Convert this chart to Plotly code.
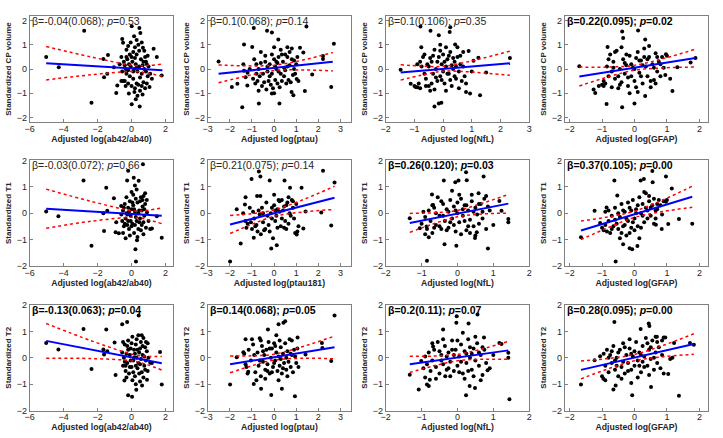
import plotly.graph_objects as go
from plotly.subplots import make_subplots

# ---------------- data ----------------
# rows: CP volume, T1, T2   cols: ab42/ab40, ptau, NfL, GFAP

cp_ab42 = [(-5.03, 0.5), (-4.29, 0.07), (-2.79, 1.58), (-2.36, -1.39), (-1.66, 0.41), (-1.62, -0.34), (-1.39, 0.58),
           (-1.43, -0.2), (-0.9, -0.99), (-0.84, -0.68), (-1.04, 0.07), (-0.6, -0.5), (-0.55, 1.24), (-0.5, 1.08),
           (0.01, 1.77), (0.46, 1.69), (0.52, 1.49), (0.67, 0.88), (1.3, 0.84), (1.49, 0.5), (1.78, -0.27),
           (1.06, -0.74), (0.01, -1.46), (0.48, -1.55), (-0.16, -1.01), (0.17, -0.95),
           (-0.3, 0.8), (-0.2, 0.95), (-0.1, 0.6), (0.0, 0.5), (0.1, 0.7), (0.2, 0.9), (0.3, 0.6), (0.4, 1.0),
           (0.55, 0.4), (0.7, 0.3), (0.8, 0.5), (0.9, 0.2), (1.0, 0.1), (-0.45, 0.3), (-0.4, 0.15), (-0.35, 0.0),
           (-0.3, -0.2), (-0.25, 0.4), (-0.15, 0.2), (-0.05, 0.1), (0.05, 0.3), (0.15, 0.0), (0.25, 0.2),
           (0.35, -0.1), (0.45, 0.1), (0.6, -0.2), (0.75, 0.0), (0.85, -0.1), (0.95, -0.3), (-0.5, -0.5),
           (-0.4, -0.5), (-0.2, -0.6), (-0.1, -0.3), (0.0, -0.7), (0.1, -0.4), (0.2, -0.8), (0.3, -0.6),
           (0.4, -0.65), (0.5, -0.9), (0.6, -0.7), (0.7, -0.55), (0.8, -0.8), (0.9, -0.6), (0.65, -1.05),
           (0.35, -1.1), (-0.6, 0.5), (-0.55, -0.1), (0.15, 1.35), (0.3, 1.2), (0.6, 1.1), (0.75, 0.75),
           (-0.05, 1.1), (0.45, 0.75), (0.2, 0.45), (0.1, -0.1), (-0.2, -0.05), (0.5, -0.35), (0.3, 0.05),
           (0.65, 0.15), (0.85, 0.3), (1.1, -0.2), (1.2, -0.4), (0.95, 0.55), (-0.35, -0.7), (0.25, -1.25),
           (-0.7, 0.2), (-0.3, 0.5)]

cp_ptau = [(-2.51, 0.31), (-1.91, -0.74), (-1.66, -0.61), (-1.44, -1.58), (-1.36, 1.01), (-1.39, 0.2), (-1.36, -0.07),
           (-1.29, -0.34), (-1.21, -0.68), (-0.92, 1.69), (-0.99, 0.91), (-0.69, -1.42), (-0.32, 1.58), (-0.1, 1.51),
           (0.19, 1.22), (0.24, -1.42), (-0.1, -1.01), (1.46, 1.76), (1.17, 0.88), (1.32, 0.68), (1.39, -0.91),
           (1.02, -0.41), (0.87, -1.08), (0.79, -0.95), (1.72, -0.23), (2.21, 0.54), (2.21, 0.41), (2.58, -0.74),
           (2.7, 1.04),
           (-0.9, 0.4), (-0.8, 0.2), (-0.7, 0.0), (-0.6, 0.25), (-0.5, -0.2), (-0.4, 0.3), (-0.3, 0.1), (-0.2, -0.3),
           (-0.1, 0.6), (0.0, 0.4), (0.1, 0.0), (0.2, 0.5), (0.3, -0.2), (0.4, 0.3), (0.5, 0.6), (0.6, 0.1),
           (0.7, 0.7), (0.8, 0.4), (0.9, 0.0), (1.0, 0.2), (-0.95, -0.4), (-0.85, -0.6), (-0.75, -0.5),
           (-0.65, -0.3), (-0.55, -0.7), (-0.45, -0.55), (-0.35, -0.85), (-0.25, -0.5), (-0.15, -0.65),
           (-0.05, -0.8), (0.05, -0.45), (0.15, -0.6), (0.25, -0.75), (0.35, -0.5), (0.45, -0.3), (0.55, -0.6),
           (0.65, -0.45), (0.75, -0.55), (0.85, -0.25), (1.1, -0.5), (-0.6, 0.7), (-0.4, 0.55), (-0.2, 0.2),
           (0.0, 0.9), (0.1, 0.3), (0.3, 0.8), (0.45, 0.05), (0.6, 0.9), (0.8, 0.85), (0.9, 0.35), (1.05, 0.5),
           (-1.1, 0.0), (-1.2, -0.15), (-0.8, -0.2), (-0.3, -0.1), (0.05, 0.1), (0.2, -0.1), (0.5, -0.05),
           (0.7, 0.15), (0.95, -0.2), (-0.7, -0.9), (0.0, -1.0), (0.35, 0.6), (-0.1, -0.2), (0.15, 0.25), (0.6, 0.5)]

cp_nfl = [(-1.48, -0.03), (-1.13, -0.61), (-0.96, -0.74), (-0.79, 1.76), (-0.76, 0.9), (-0.44, 1.58), (-0.3, -1.55),
          (-0.15, -1.42), (-0.06, -1.39), (-0.15, 1.39), (0.25, 1.72), (0.23, 1.53), (0.42, 1.01), (0.8, -0.95),
          (0.94, -1.01), (1.29, -1.08), (1.23, 0.47), (1.5, -0.14), (2.33, 0.45), (0.89, 0.74), (1.06, 0.34),
          (-1.0, -0.7), (-0.9, -0.75), (-0.85, -0.6), (-0.8, -0.8), (-0.75, 0.1), (-0.7, 0.5), (-0.65, 0.6),
          (-0.6, -0.4), (-0.55, 0.2), (-0.5, -0.7), (-0.45, -0.9), (-0.4, 0.3), (-0.35, -0.2), (-0.3, 0.8),
          (-0.25, 0.0), (-0.2, -0.5), (-0.15, 0.5), (-0.1, -0.3), (-0.05, 0.2), (0.0, 0.6), (0.05, -0.6),
          (0.1, 0.1), (0.15, 0.4), (0.2, -0.2), (0.25, 0.7), (0.3, -0.7), (0.35, 0.0), (0.4, 0.3), (0.45, -0.4),
          (0.5, 0.5), (0.55, -0.1), (0.6, 0.2), (0.65, -0.5), (0.7, 0.1), (0.75, -0.3), (-0.9, 0.2), (-0.8, 0.3),
          (-0.6, -0.7), (-0.5, 0.1), (-0.4, -0.6), (-0.3, -0.85), (-0.2, 0.3), (-0.1, 0.75), (0.0, -0.1),
          (0.1, -0.9), (0.2, 0.55), (0.3, 0.15), (0.4, -0.3), (0.5, 0.9), (0.6, 0.55), (0.7, 0.7), (-0.05, -0.45),
          (0.15, -0.2), (0.35, 0.45), (0.45, 0.1), (-0.35, 0.55), (-0.65, -0.2), (-0.25, -0.35), (0.05, 0.3),
          (0.25, -0.45), (0.55, -0.8), (-0.45, 0.45), (0.8, -0.6), (1.0, -0.1), (-0.1, 1.0), (0.1, 0.9)]

cp_gfap = [(-1.7, 0.11), (-1.26, -0.85), (-1.21, -0.99), (-0.86, -1.45), (-0.83, 0.91), (-0.38, 1.55), (-0.38, -1.58),
           (-0.35, 1.28), (0.0, -1.42), (0.11, 1.59), (0.33, 1.22), (0.33, -1.12), (1.17, -0.91), (1.32, 0.07),
           (1.73, 0.27), (1.88, 0.45), (0.97, 0.61),
           (-1.0, -0.65), (-0.95, -0.7), (-0.9, -0.6), (-0.85, 0.1), (-0.8, -0.3), (-0.75, 0.6), (-0.7, -0.75),
           (-0.65, 0.3), (-0.6, -0.4), (-0.55, 0.75), (-0.5, -0.8), (-0.45, 0.0), (-0.4, -0.55), (-0.35, 0.4),
           (-0.3, -0.2), (-0.25, 0.15), (-0.2, -0.7), (-0.15, 0.55), (-0.1, -0.3), (-0.05, 0.05), (0.0, -0.5),
           (0.05, 0.45), (0.1, 0.7), (0.15, -0.15), (0.2, 0.35), (0.25, -0.6), (0.3, 0.85), (0.35, 0.1),
           (0.4, -0.3), (0.45, 0.5), (0.5, -0.75), (0.55, 0.2), (0.6, -0.45), (0.65, 0.65), (0.7, -0.1),
           (0.75, 0.3), (0.8, -0.3), (0.85, 0.5), (0.9, 0.05), (0.95, -0.25), (-0.95, -0.5), (-0.8, 0.4),
           (-0.7, -0.1), (-0.6, 0.7), (-0.5, -0.3), (-0.4, 0.9), (-0.3, 0.25), (-0.2, -0.35), (-0.1, 0.2),
           (0.0, 0.0), (0.1, -0.95), (0.2, -0.3), (0.3, 0.5), (0.4, 0.4), (0.5, -0.5), (0.6, 0.05), (0.7, 0.5),
           (0.8, 0.2), (1.0, 0.55), (1.1, -0.4), (-0.45, -0.65), (-0.15, -1.0), (0.05, -0.75), (-0.65, 0.05),
           (0.25, 0.15), (0.65, -0.6), (-0.25, 0.6), (0.45, 0.95), (0.15, 0.35), (-1.1, -0.7)]

t1_ab42 = [(-5.03, 0.06), (-4.31, -0.12), (-2.83, 1.24), (-2.36, -1.24), (-1.66, 0.0), (-1.62, -0.68), (-1.49, 0.96),
           (-1.43, 0.09), (-1.04, 0.56), (-0.94, -0.72), (-0.9, -0.35), (-0.75, -0.76), (-0.2, 1.61), (-0.26, 1.24),
           (0.13, 1.34), (0.42, 1.23), (0.67, 1.85), (0.23, -1.37), (0.26, -1.83), (0.0, 0.8), (0.71, 0.65),
           (0.91, 0.02), (1.49, -0.12), (1.78, -0.93), (1.2, -0.58), (0.32, -1.03), (-0.61, 0.27),
           (-0.55, -0.3), (-0.5, 0.1), (-0.45, -0.5), (-0.4, 0.35), (-0.35, -0.2), (-0.3, 0.0), (-0.25, -0.45),
           (-0.2, 0.2), (-0.15, -0.6), (-0.1, 0.45), (-0.05, -0.1), (0.0, 0.15), (0.05, -0.4), (0.1, 0.3),
           (0.15, -0.75), (0.2, 0.05), (0.25, 0.55), (0.3, -0.3), (0.35, 0.4), (0.4, -0.6), (0.45, 0.1),
           (0.5, -0.2), (0.55, 0.6), (0.6, -0.45), (0.65, 0.25), (0.7, -0.8), (0.75, -0.1), (0.8, 0.35),
           (0.85, -0.55), (0.9, 0.5), (-0.5, -0.75), (-0.4, -0.4), (-0.3, 0.6), (-0.2, -0.3), (-0.1, -0.85),
           (0.0, -0.5), (0.1, 0.7), (0.2, -0.45), (0.3, 0.9), (0.4, 0.0), (0.5, 0.45), (0.6, 0.1), (0.7, -0.35),
           (0.8, 0.75), (-0.45, 0.2), (-0.25, -0.05), (0.05, 0.4), (0.25, -0.15), (0.35, -0.9), (0.45, -0.35),
           (0.55, -0.65), (0.15, 0.15), (-0.15, 0.05), (-0.05, -0.3), (0.65, 0.5), (1.0, -0.3), (1.1, -0.6),
           (-0.35, -0.95), (0.75, 0.15), (0.2, 1.05), (-0.6, -0.05)]

t1_ptau = [(-1.99, -1.83), (-1.69, 0.15), (-1.51, -1.15), (-1.32, 0.33), (-1.29, 0.6), (-1.02, 1.29), (-0.92, -0.93),
           (-0.69, 1.58), (-0.62, 1.39), (-0.2, 1.24), (-0.13, -1.34), (0.12, -1.22), (0.47, 1.24), (0.72, 0.96),
           (1.24, 0.96), (1.02, -0.81), (1.32, -0.58), (1.42, 0.06), (2.13, 0.02), (2.21, 1.61), (2.58, -0.47),
           (2.73, 1.16), (-0.77, 0.65), (-0.62, 0.65),
           (-1.4, 0.0), (-1.3, -0.3), (-1.2, -0.4), (-1.1, 0.2), (-1.0, -0.6), (-0.9, -0.2), (-0.8, -0.45),
           (-0.7, 0.1), (-0.6, -0.8), (-0.5, -0.35), (-0.4, -0.6), (-0.3, -0.1), (-0.2, -0.7), (-0.1, 0.2),
           (0.0, 0.3), (0.1, -0.1), (0.2, 0.5), (0.3, -0.5), (0.4, 0.1), (0.5, -0.3), (0.6, 0.4), (0.7, 0.0),
           (0.8, 0.5), (0.9, -0.2), (1.0, 0.35), (1.1, -0.5), (-1.25, -0.55), (-1.05, -0.35), (-0.85, -0.5),
           (-0.65, -0.05), (-0.45, -0.65), (-0.25, -0.45), (-0.05, -0.95), (0.05, 0.1), (0.15, -0.55),
           (0.25, 0.45), (0.35, -0.2), (0.45, -0.55), (0.55, 0.3), (0.65, 0.6), (0.75, -0.1), (0.85, 0.2),
           (0.95, -0.75), (-0.55, 0.2), (-0.35, 0.4), (-0.15, 0.0), (0.05, -0.3), (0.25, 0.05), (0.45, 0.25),
           (0.65, -0.4), (0.85, 0.45), (-0.95, 0.05), (-0.75, -0.7), (0.15, 0.15), (0.35, 0.5), (-0.1, -0.2),
           (0.55, -0.6), (1.05, -0.7), (0.0, 0.7), (-0.5, 0.0)]

t1_nfl = [(-1.33, -0.19), (-1.05, -0.57), (-0.86, -0.51), (-0.85, -1.8), (-0.8, -0.91), (-0.71, 0.71), (-0.68, 0.31),
          (-0.38, 1.24), (-0.36, -1.18), (-0.06, 1.17), (-0.03, -1.24), (0.03, 1.24), (0.24, 1.55), (0.26, 1.25),
          (0.73, 1.39), (0.8, 0.65), (0.59, 0.75), (0.85, -1.34), (0.49, -0.94), (1.17, 0.46), (1.42, -0.22),
          (1.42, -0.35), (1.23, 0.09), (0.54, -0.72),
          (-1.0, -0.4), (-0.95, 0.05), (-0.9, -0.15), (-0.85, -0.6), (-0.8, 0.1), (-0.75, -0.3), (-0.7, -0.75),
          (-0.65, 0.2), (-0.6, -0.45), (-0.55, 0.6), (-0.5, -0.1), (-0.45, -0.6), (-0.4, 0.35), (-0.35, -0.3),
          (-0.3, 0.15), (-0.25, -0.55), (-0.2, 0.5), (-0.15, -0.2), (-0.1, 0.25), (-0.05, -0.7), (0.0, 0.0),
          (0.05, -0.35), (0.1, 0.55), (0.15, -0.1), (0.2, 0.3), (0.25, -0.65), (0.3, 0.1), (0.35, -0.25),
          (0.4, 0.45), (0.45, -0.5), (0.5, 0.2), (0.55, -0.05), (0.6, -0.4), (0.65, 0.35), (0.7, -0.2),
          (0.75, 0.55), (0.8, -0.6), (0.9, 0.1), (-0.9, -0.8), (-0.7, 0.3), (-0.5, -0.5), (-0.3, -0.65),
          (-0.1, -0.45), (0.1, -0.8), (0.3, -0.5), (0.5, -0.85), (0.7, 0.05), (-0.6, 0.0), (-0.4, -0.1),
          (-0.2, -0.35), (0.0, 0.4), (0.2, -0.3), (0.4, 0.7), (0.6, 0.35), (-0.45, 0.45), (-0.15, 0.85),
          (0.15, 0.15), (0.35, -0.75), (-0.25, 0.05), (0.05, 0.7), (0.45, 0.05), (-0.65, -0.55), (1.0, -0.45),
          (0.85, 0.25), (-0.05, 0.1), (0.25, 0.3)]

t1_gfap = [(-1.65, -0.91), (-1.23, 0.09), (-1.06, -0.37), (-0.86, 0.21), (-0.62, 1.24), (-0.58, -1.83), (-0.53, 0.67),
           (-0.35, -1.18), (-0.15, -1.33), (-0.07, -1.37), (0.09, -1.25), (0.19, 1.24), (0.29, 1.29), (0.56, 1.17),
           (0.55, 1.6), (0.97, 1.39), (1.15, 0.93), (0.97, 0.43), (1.37, -0.22), (1.04, -0.41), (1.78, -0.4),
           (0.66, -0.44), (0.84, -0.6),
           (-1.0, -0.55), (-0.95, -0.65), (-0.9, 0.05), (-0.85, -0.7), (-0.8, -0.3), (-0.75, -0.75), (-0.7, -0.1),
           (-0.65, -0.5), (-0.6, 0.2), (-0.55, -0.4), (-0.5, -0.6), (-0.45, -0.15), (-0.4, 0.35), (-0.35, -0.5),
           (-0.3, 0.05), (-0.25, -0.85), (-0.2, -0.3), (-0.15, 0.2), (-0.1, -0.55), (-0.05, 0.5), (0.0, -0.2),
           (0.05, 0.15), (0.1, -0.5), (0.15, 0.6), (0.2, 0.0), (0.25, 0.35), (0.3, -0.35), (0.35, 0.75),
           (0.4, 0.1), (0.45, 0.45), (0.5, -0.1), (0.55, 0.3), (0.6, 0.55), (0.65, -0.2), (0.7, 0.15), (0.75, 0.5),
           (0.8, 0.3), (0.9, 0.45), (-0.9, -0.45), (-0.7, -0.6), (-0.5, 0.0), (-0.4, -0.75), (-0.3, -0.45),
           (-0.2, 0.4), (-0.1, 0.1), (0.0, -0.65), (0.1, 0.3), (0.2, -0.55), (0.3, 0.8), (0.4, -0.2), (0.5, 0.2),
           (0.6, -0.4), (0.7, 0.35), (-0.6, -0.25), (-0.35, 0.1), (-0.15, -0.75), (0.05, 0.0), (0.25, -0.1),
           (0.45, 0.65), (-0.45, -0.95), (-0.8, 0.1), (0.15, -0.95), (0.65, 0.1), (-0.05, -0.35), (0.35, 0.2),
           (-0.25, -0.2), (0.85, -0.05), (1.0, 0.5)]

t2_ab42 = [(-5.03, 0.56), (-4.31, 0.31), (-2.83, 1.09), (-2.36, -0.43), (-1.66, 0.31), (-1.62, 0.12), (-1.49, 1.07),
           (-1.43, 0.25), (-1.0, 0.58), (-0.94, -0.65), (-0.55, 1.27), (-0.26, 1.36), (-0.42, -0.86), (-0.2, -1.42),
           (0.03, -1.48), (0.28, -1.21), (0.42, 1.6), (1.68, 0.22), (1.78, -1.01), (1.1, -0.19), (0.91, -0.83),
           (0.62, -1.05),
           (-0.55, 0.2), (-0.5, -0.3), (-0.45, 0.0), (-0.4, 0.5), (-0.35, -0.5), (-0.3, 0.15), (-0.25, -0.2),
           (-0.2, 0.65), (-0.15, -0.6), (-0.1, 0.1), (-0.05, 0.35), (0.0, -0.35), (0.05, 0.8), (0.1, -0.1),
           (0.15, 0.3), (0.2, -0.7), (0.25, 0.5), (0.3, 0.0), (0.35, -0.4), (0.4, 0.85), (0.45, 0.2), (0.5, -0.25),
           (0.55, 0.6), (0.6, -0.55), (0.65, 0.1), (0.7, 0.75), (0.75, -0.3), (0.8, 0.4), (0.85, -0.1), (0.9, 0.25),
           (0.95, -0.5), (1.0, 0.0), (-0.5, 0.6), (-0.4, -0.15), (-0.3, -0.75), (-0.2, 0.3), (-0.1, -0.35),
           (0.0, 0.55), (0.1, -0.55), (0.2, 0.15), (0.3, 0.7), (0.4, -0.2), (0.5, 0.35), (0.6, 0.85), (0.7, -0.75),
           (0.8, -0.45), (0.15, 0.0), (0.35, 0.3), (0.55, -0.05), (0.45, -0.6), (-0.05, -0.1), (0.25, -0.3),
           (0.65, 0.45), (0.85, 0.6), (0.05, -0.85), (-0.25, 0.45), (0.75, 0.05), (1.2, -0.2), (0.95, 0.55),
           (0.25, -1.0), (0.5, -0.9), (-0.35, -0.3)]

t2_ptau = [(-1.99, -1.01), (-1.69, 0.02), (-1.39, 0.21), (-1.29, 0.7), (-1.29, -0.25), (-1.17, -0.53), (-0.92, -0.99),
           (-0.65, 0.74), (-0.59, -1.17), (-0.28, 1.07), (-0.13, -1.41), (0.2, 1.27), (0.35, -1.17), (0.42, 1.33),
           (0.5, 1.38), (0.94, -1.46), (1.06, 0.77), (1.42, 0.12), (2.16, 0.56), (2.18, 0.37), (2.58, -0.12),
           (2.73, 1.6),
           (-1.35, 0.15), (-1.25, -0.35), (-1.15, 0.3), (-1.05, -0.1), (-0.95, 0.5), (-0.85, -0.55), (-0.75, 0.2),
           (-0.7, -0.3), (-0.6, -0.7), (-0.55, 0.45), (-0.5, -0.15), (-0.45, 0.1), (-0.4, -0.45), (-0.35, 0.3),
           (-0.3, -0.25), (-0.25, 0.6), (-0.2, -0.6), (-0.15, 0.0), (-0.1, 0.35), (-0.05, -0.35), (0.0, 0.55),
           (0.05, -0.1), (0.1, 0.2), (0.15, -0.5), (0.2, 0.05), (0.25, -0.3), (0.3, 0.4), (0.35, -0.6),
           (0.4, 0.15), (0.45, -0.2), (0.5, 0.55), (0.55, -0.45), (0.6, 0.25), (0.65, -0.15), (0.7, 0.7),
           (0.75, -0.35), (0.8, 0.1), (0.85, -0.55), (0.9, 0.3), (1.0, -0.2), (1.1, -0.35), (-1.2, -0.6),
           (-1.0, 0.7), (-0.8, -0.85), (-0.6, 0.65), (-0.4, -0.8), (-0.2, 0.35), (0.0, -0.2), (0.1, 0.85),
           (0.2, -0.85), (0.3, -0.05), (0.4, -0.4), (0.6, -0.7), (0.8, 0.65), (-0.9, 0.1), (-0.5, 0.25),
           (-0.1, -0.55), (0.25, 0.65), (0.55, 0.0), (0.75, 0.15), (0.95, 0.05), (-0.3, -0.5), (0.05, 0.45),
           (-0.65, -0.1), (1.05, 0.35)]

t2_nfl = [(-1.33, -0.64), (-1.08, -1.2), (-1.01, -0.12), (-0.85, -1.01), (-0.8, -1.07), (-0.77, -0.83), (-0.68, 0.43),
          (-0.4, 1.07), (-0.34, -0.7), (-0.03, 1.33), (-0.02, 1.57), (0.24, -1.42), (0.31, 1.3), (0.34, -1.07),
          (0.49, -1.15), (0.56, 1.64), (0.74, 0.77), (0.84, -0.47), (1.17, 0.56), (1.23, 0.52), (1.42, 0.19),
          (1.42, 0.0), (1.45, -1.57),
          (-0.95, -0.4), (-0.9, 0.05), (-0.85, -0.25), (-0.8, 0.2), (-0.75, -0.5), (-0.7, -0.1), (-0.65, 0.3),
          (-0.6, -0.35), (-0.55, 0.6), (-0.5, -0.6), (-0.45, 0.1), (-0.4, -0.25), (-0.35, 0.45), (-0.3, -0.45),
          (-0.25, 0.2), (-0.2, -0.15), (-0.15, 0.65), (-0.1, -0.5), (-0.05, 0.3), (0.0, -0.3), (0.05, 0.05),
          (0.1, 0.5), (0.15, -0.6), (0.2, 0.25), (0.25, -0.2), (0.3, 0.7), (0.35, 0.0), (0.4, -0.45), (0.45, 0.35),
          (0.5, -0.1), (0.55, 0.55), (0.6, -0.3), (0.65, 0.1), (0.7, -0.65), (0.75, 0.3), (0.8, -0.2),
          (0.9, -0.4), (-0.9, -0.75), (-0.7, 0.55), (-0.5, 0.25), (-0.3, 0.05), (-0.1, 0.1), (0.1, -0.15),
          (0.3, -0.5), (0.5, 0.8), (0.7, 0.4), (-0.6, -0.8), (-0.2, -0.7), (0.0, 0.65), (0.2, -0.8), (0.4, 0.15),
          (0.6, 0.2), (-0.4, 0.7), (0.15, 0.95), (-0.25, -0.4), (0.05, -0.55), (0.35, 0.4), (0.25, 0.15),
          (-0.45, -0.1), (0.65, -0.85), (1.0, 0.1), (-0.15, 0.3), (0.45, -0.7)]

t2_gfap = [(-1.65, -1.01), (-1.23, -0.09), (-1.06, 0.06), (-0.96, -0.8), (-0.62, 1.36), (-0.65, -1.2), (-0.58, -1.05),
           (-0.1, -0.96), (-0.07, -1.42), (0.19, 1.09), (0.44, 1.3), (0.46, 1.2), (0.51, -1.11), (0.69, 0.8),
           (0.9, 0.77), (0.95, 0.77), (1.04, -0.62), (1.17, 0.0), (1.22, 0.56), (1.37, -1.44), (1.71, 0.56),
           (1.83, 0.49),
           (-1.0, -0.7), (-0.95, 0.15), (-0.9, -0.3), (-0.85, 0.3), (-0.8, -0.55), (-0.75, 0.1), (-0.7, -0.2),
           (-0.65, 0.45), (-0.6, -0.45), (-0.55, 0.0), (-0.5, -0.7), (-0.45, 0.3), (-0.4, -0.35), (-0.35, 0.55),
           (-0.3, -0.6), (-0.25, 0.1), (-0.2, -0.2), (-0.15, 0.35), (-0.1, -0.45), (-0.05, 0.05), (0.0, -0.3),
           (0.05, 0.6), (0.1, -0.1), (0.15, 0.2), (0.2, -0.55), (0.25, 0.45), (0.3, 0.05), (0.35, 0.75),
           (0.4, -0.3), (0.45, 0.3), (0.5, -0.05), (0.55, 0.65), (0.6, -0.45), (0.65, 0.2), (0.7, -0.2),
           (0.75, 0.4), (0.8, -0.4), (0.85, 0.1), (0.9, -0.6), (-0.9, -0.85), (-0.7, 0.25), (-0.5, 0.2),
           (-0.3, 0.4), (-0.1, 0.15), (0.1, -0.75), (0.3, -0.35), (0.5, 0.4), (0.7, 0.6), (-0.6, -0.1),
           (-0.4, -0.8), (-0.2, -0.5), (0.0, 0.25), (0.2, 0.1), (0.4, 0.55), (0.6, 0.0), (-0.35, -0.15),
           (-0.15, 0.7), (0.25, -0.15), (0.45, -0.65), (-0.8, 0.0), (0.65, 0.8), (0.15, -0.3), (-0.55, -0.3),
           (0.85, 0.65), (1.1, -0.05)]

points = [cp_ab42, cp_ptau, cp_nfl, cp_gfap,
          t1_ab42, t1_ptau, t1_nfl, t1_gfap,
          t2_ab42, t2_ptau, t2_nfl, t2_gfap]

# fitted line end points
fit_x = [[-5.03, 1.82], [-2.51, 2.65], [-1.48, 2.33], [-1.7, 1.88],
         [-5.03, 1.78], [-1.99, 2.73], [-1.33, 1.42], [-1.65, 1.78],
         [-5.03, 1.78], [-1.99, 2.73], [-1.33, 1.42], [-1.65, 1.83]]
fit_y = [[0.24, -0.05], [-0.2, 0.3], [-0.14, 0.24], [-0.31, 0.45],
         [0.17, -0.1], [-0.43, 0.58], [-0.37, 0.36], [-0.66, 0.62],
         [0.64, -0.21], [-0.25, 0.4], [-0.25, 0.28], [-0.46, 0.52]]

# confidence band read at a few x positions
ci_x = [[-5.03, -2.4, 0.2, 1.0, 1.82], [-2.51, -1.2, 0.05, 1.35, 2.65], [-1.48, -0.74, 0.0, 1.16, 2.33],
        [-1.7, -0.85, 0.0, 0.94, 1.88],
        [-5.03, -2.4, 0.2, 1.0, 1.78], [-1.99, -1.0, 0.0, 1.37, 2.73], [-1.33, -0.66, 0.0, 0.71, 1.42],
        [-1.65, -0.82, 0.0, 0.89, 1.78],
        [-5.03, -2.4, 0.2, 1.0, 1.78], [-1.99, -1.0, 0.0, 1.37, 2.73], [-1.33, -0.66, 0.0, 0.71, 1.42],
        [-1.65, -0.82, 0.0, 0.91, 1.83]]
ci_hi = [[0.93, 0.5, 0.14, 0.15, 0.2], [0.17, 0.13, 0.16, 0.38, 0.68], [0.18, 0.12, 0.11, 0.38, 0.74],
         [0.08, 0.08, 0.15, 0.45, 0.82],
         [0.91, 0.45, 0.08, 0.11, 0.2], [-0.09, -0.02, 0.12, 0.53, 1.02], [-0.01, 0.015, 0.1, 0.38, 0.71],
         [-0.3, -0.145, 0.076, 0.51, 1.02],
         [1.3, 0.65, 0.107, 0.05, 0.045], [0.07, 0.073, 0.134, 0.444, 0.82], [0.06, 0.064, 0.126, 0.342, 0.62],
         [-0.12, -0.028, 0.125, 0.481, 0.91]]
ci_lo = [[-0.45, -0.24, -0.1, -0.18, -0.3], [-0.57, -0.28, -0.06, -0.04, -0.08], [-0.46, -0.25, -0.09, -0.14, -0.26],
         [-0.7, -0.34, -0.05, 0.05, 0.08],
         [-0.57, -0.31, -0.16, -0.25, -0.4], [-0.77, -0.42, -0.12, 0.05, 0.14], [-0.73, -0.4, -0.14, -0.03, 0.0],
         [-1.0, -0.555, -0.164, 0.063, 0.22],
         [-0.015, -0.03, -0.133, -0.278, -0.465], [-0.57, -0.3, -0.086, -0.018, -0.04],
         [-0.56, -0.306, -0.114, -0.056, -0.06], [-0.8, -0.424, -0.115, 0.041, 0.13]]

stats = ["β=-0.04(0.068); <i>p</i>=0.53", "β=0.1(0.068); <i>p</i>=0.14", "β=0.1(0.106); <i>p</i>=0.35",
         "β=0.22(0.095); <i>p</i>=0.02",
         "β=-0.03(0.072); <i>p</i>=0.66", "β=0.21(0.075); <i>p</i>=0.14", "β=0.26(0.120); <i>p</i>=0.03",
         "β=0.37(0.105); <i>p</i>=0.00",
         "β=-0.13(0.063); <i>p</i>=0.04", "β=0.14(0.068); <i>p</i>=0.05", "β=0.2(0.11); <i>p</i>=0.07",
         "β=0.28(0.095); <i>p</i>=0.00"]
stat_bold = [False, False, False, True,
             False, False, True, True,
             True, True, True, True]

x_titles = ["Adjusted log(ab42/ab40)", "Adjusted log(ptau)", "Adjusted log(NfL)", "Adjusted log(GFAP)",
            "Adjusted log(ab42/ab40)", "Adjusted log(ptau181)", "Adjusted log(NfL)", "Adjusted log(GFAP)",
            "Adjusted log(ab42/ab40)", "Adjusted log(ptau)", "Adjusted log(NfL)", "Adjusted log(GFAP)"]
y_titles = ["Standardized CP volume", "Standardized T1", "Standardized T2"]

x_ranges = [[-6, 2.45], [-3, 3.48], [-2, 3], [-2.15, 2.27],
            [-6, 2.45], [-3, 3.48], [-2, 2], [-2.15, 2.27],
            [-6, 2.45], [-3, 3.48], [-2, 2], [-2.15, 2.27]]
x_ticks = [[-6, -4, -2, 0, 2], [-3, -2, -1, 0, 1, 2, 3], [-2, -1, 0, 1, 2, 3], [-2, -1, 0, 1, 2],
           [-6, -4, -2, 0, 2], [-3, -2, -1, 0, 1, 2, 3], [-2, -1, 0, 1, 2], [-2, -1, 0, 1, 2],
           [-6, -4, -2, 0, 2], [-3, -2, -1, 0, 1, 2, 3], [-2, -1, 0, 1, 2], [-2, -1, 0, 1, 2]]
y_ranges = [[-2.2, 2.2], [-2, 2], [-2, 2]]

# ---------------- figure ----------------
W, H = 723, 438
col_px = [(25, 170), (205, 350), (385, 530), (566, 711)]
row_px = [(11, 120), (159, 267), (307, 415)]

FONT = "Liberation Sans, Arial, sans-serif"
AX = "#262626"

fig = make_subplots(rows=3, cols=4)

for i in range(12):
    r, c = i // 4 + 1, i % 4 + 1
    px, py = zip(*points[i])
    fig.add_trace(go.Scatter(x=px, y=py, mode="markers",
                             marker=dict(color="black", size=4), showlegend=False), row=r, col=c)
    fig.add_trace(go.Scatter(x=ci_x[i], y=ci_hi[i], mode="lines",
                             line=dict(color="red", width=1.5, dash="dot", shape="spline"),
                             showlegend=False), row=r, col=c)
    fig.add_trace(go.Scatter(x=ci_x[i], y=ci_lo[i], mode="lines",
                             line=dict(color="red", width=1.5, dash="dot", shape="spline"),
                             showlegend=False), row=r, col=c)
    fig.add_trace(go.Scatter(x=fit_x[i], y=fit_y[i], mode="lines",
                             line=dict(color="blue", width=2), showlegend=False), row=r, col=c)

    x0, x1 = col_px[c - 1]
    y0, y1 = row_px[r - 1]
    axis_common = dict(showline=True, linecolor="#808080", linewidth=1, mirror=True,
                       ticks="inside", ticklen=3, tickcolor="#808080", showgrid=False, zeroline=False,
                       tickfont=dict(family=FONT, size=9, color=AX))
    fig.update_xaxes(domain=[x0 / W, x1 / W], range=x_ranges[i], tickvals=x_ticks[i],
                     ticklabelstandoff=-2,
                     title=dict(text="<b>%s</b>" % x_titles[i], standoff=1,
                                font=dict(family=FONT, size=8.7, color=AX)),
                     **axis_common, row=r, col=c)
    fig.update_yaxes(domain=[1 - y1 / H, 1 - y0 / H], range=y_ranges[r - 1], tickvals=[-2, -1, 0, 1, 2],
                     title=dict(text="<b>%s</b>" % y_titles[r - 1], standoff=3,
                                font=dict(family=FONT, size=8, color=AX)),
                     **axis_common, row=r, col=c)

    txt = "<b>%s</b>" % stats[i] if stat_bold[i] else stats[i]
    fig.add_annotation(text=txt, xref="x%s domain" % ("" if i == 0 else i + 1),
                       yref="y%s domain" % ("" if i == 0 else i + 1),
                       x=0.005, y=1.0, yshift=3, xanchor="left", yanchor="top", showarrow=False,
                       font=dict(family=FONT, size=10.5, color="black" if stat_bold[i] else AX))

fig.update_layout(width=W, height=H, margin=dict(l=0, r=0, t=0, b=0),
                  paper_bgcolor="white", plot_bgcolor="white")

# drop the default page margin so the figure sits at the window's corner
fig.write_html("out.html", config={"displayModeBar": False},
               post_script="document.body.style.margin='0';document.body.style.padding='0';")
